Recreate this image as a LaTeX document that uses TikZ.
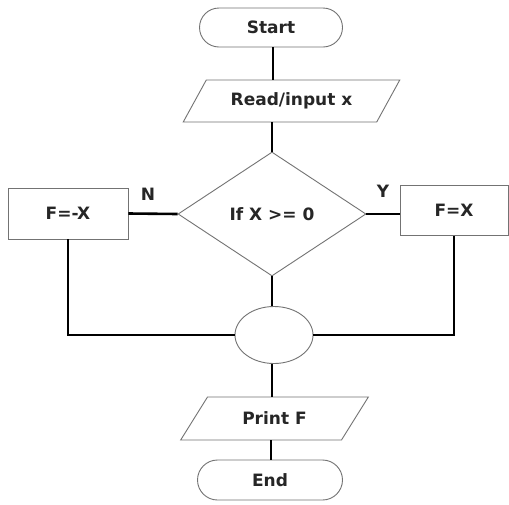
\documentclass[tikz,border=0pt]{standalone}
\usepackage{fontspec}
\setmainfont{DejaVu Sans}
\usetikzlibrary{shapes.geometric,shapes.misc}
\begin{document}
\begin{tikzpicture}[x=1pt,y=-1pt,
  label font/.style={font=\bfseries\fontsize{17}{19}\selectfont, text=black!85},
  box/.style={draw=black!55, line width=0.9pt, fill=white, inner sep=0pt, label font},
  terminal/.style={box, rounded rectangle, minimum width=143, minimum height=39},
  io/.style={box, trapezium, trapezium left angle=45, trapezium right angle=135,
    trapezium stretches=true},
  process/.style={box, rectangle},
  decision/.style={box, diamond, minimum width=188, minimum height=124},
  joint/.style={box, ellipse, minimum width=78, minimum height=57},
  link/.style={line width=2.6pt, black},
  tag/.style={label font, inner sep=0pt}
]
\useasboundingbox (0,0) rectangle (509,504);
\fill[white] (0,0) rectangle (509,504);

% flowchart shapes
\node[terminal] (start) at (271,27.5) {Start};
\node[io, minimum width=217, minimum height=42] (read) at (291.5,101) {Read/input x};
\node[decision] (dec) at (272,214) {If X >= 0};
\node[process, minimum width=120, minimum height=51] (neg) at (68,213.5) {F=-X};
\node[process, minimum width=108, minimum height=50] (pos) at (454,210.5) {F=X};
\node[joint] (join) at (274,335) {};
\node[io, minimum width=189, minimum height=43] (print) at (274.5,418.5) {Print F};
\node[terminal, minimum width=145, minimum height=40] (end) at (270,480) {End};

% branch labels
\node[tag] (no) at (148,194) {N};
\node[tag] (yes) at (383,191) {Y};

% connectors
\draw[link] (start.south -| 273,0) -- (read.north -| 273,0);
\draw[link] (read.south -| dec.north) -- (dec.north);
\draw[link] (neg.east) -- (dec.west);
\draw[link] (dec.east) -- (dec.east -| pos.west);
\draw[link] (dec.south) -- (dec.south |- join.north);
\draw[link] (neg.south) |- (join.west);
\draw[link] (pos.south) |- (join.east);
\draw[link] (join.south -| 272,0) -- (print.north -| 272,0);
\draw[link] (print.south -| 271,0) -- (end.north -| 271,0);
\end{tikzpicture}
\end{document}
